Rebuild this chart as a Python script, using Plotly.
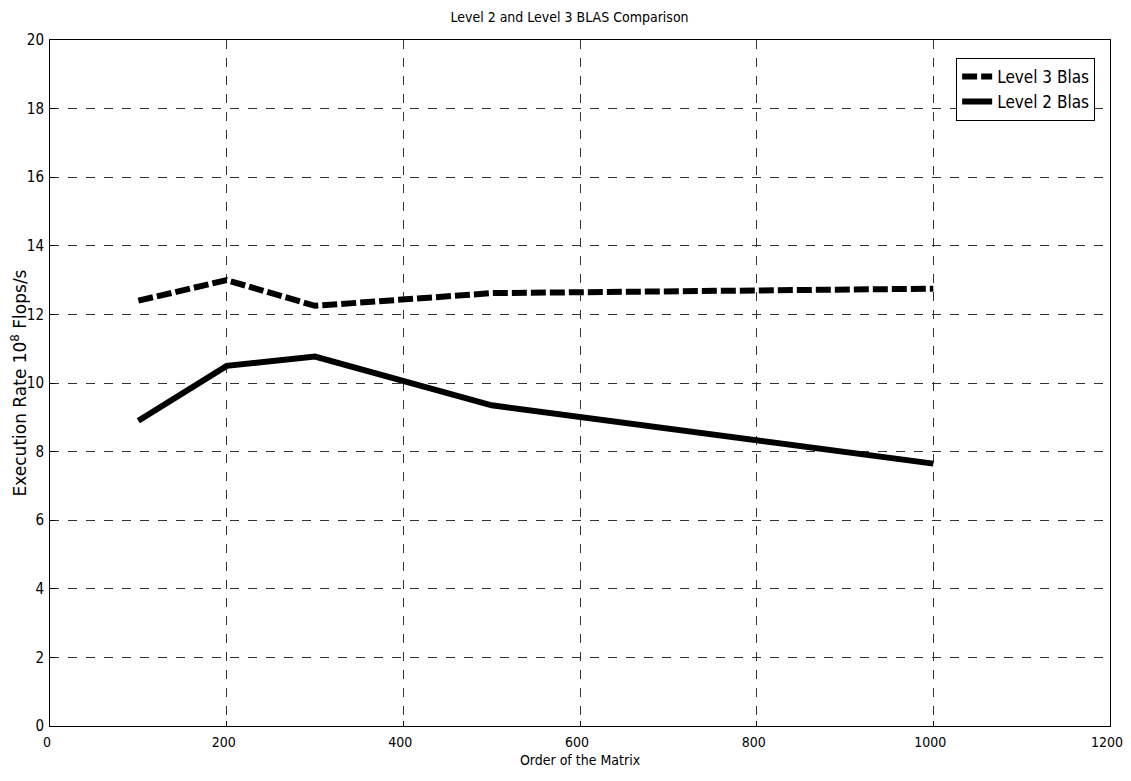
import plotly.graph_objects as go

matrix_order = [100, 200, 300, 500, 1000]
level3_rate = [12.4, 13.0, 12.25, 12.62, 12.75]
level2_rate = [8.9, 10.5, 10.77, 9.35, 7.65]

title_text = "Level 2 and Level 3 BLAS Comparison"
x_title = "Order of the Matrix"
y_title = "Execution Rate 10<sup>8</sup> Flops/s"
x_ticks = [0, 200, 400, 600, 800, 1000, 1200]
y_ticks = [0, 2, 4, 6, 8, 10, 12, 14, 16, 18, 20]

NARROW = "DejaVu Sans Condensed, Liberation Sans Narrow, sans-serif"

fig = go.Figure()
fig.add_trace(go.Scatter(x=matrix_order, y=level3_rate, mode="lines", name="Level 3 Blas",
                         line=dict(color="black", width=6, dash="15px,4px")))
fig.add_trace(go.Scatter(x=matrix_order, y=level2_rate, mode="lines", name="Level 2 Blas",
                         line=dict(color="black", width=6)))

axis_common = dict(showline=True, linecolor="black", linewidth=1, mirror=True,
                   showgrid=True, gridcolor="#333333", griddash="dash", gridwidth=1,
                   ticks="inside", ticklen=5, tickcolor="black", zeroline=False,
                   ticklabeloverflow="allow", automargin=False)

fig.update_layout(
    width=1123, height=765,
    paper_bgcolor="white", plot_bgcolor="white",
    margin=dict(l=42, r=21, t=32, b=47),
    title=dict(text=title_text, x=0.5, xanchor="center", y=0.995, yanchor="top",
               font=dict(family=NARROW, size=14, color="black")),
    xaxis=dict(range=[0, 1200], tickvals=x_ticks, ticklabelshift=-3, ticklabelstandoff=3,
               tickfont=dict(family=NARROW, size=14, color="black"),
               title=dict(text=x_title, standoff=6, font=dict(family=NARROW, size=14, color="black")),
               **axis_common),
    yaxis=dict(range=[0, 20], tickvals=y_ticks, ticklabelstandoff=2,
               tickfont=dict(family=NARROW, size=15, color="black"),
               title=dict(text=y_title, standoff=4, font=dict(family="DejaVu Sans, sans-serif", size=17, color="black")),
               **axis_common),
    legend=dict(x=0.986, y=0.9738, xanchor="right", yanchor="top",
                bgcolor="white", bordercolor="black", borderwidth=1,
                font=dict(family=NARROW, size=17, color="black"),
                itemwidth=30, tracegroupgap=2),
    showlegend=True,
)

fig.write_html("out.html")
